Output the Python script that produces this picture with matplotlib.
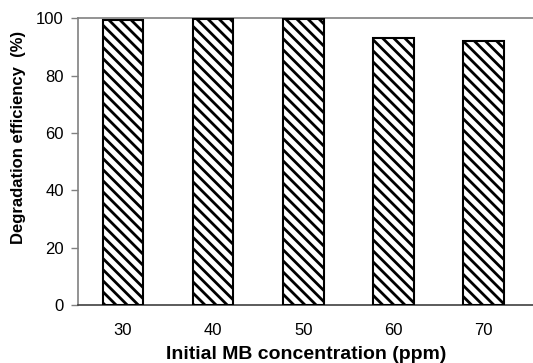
import matplotlib
matplotlib.use("Agg")
import matplotlib.pyplot as plt

concentrations = ["30", "40", "50", "60", "70"]
efficiency = [99.2, 99.7, 99.6, 93.1, 92.0]

plt.rcParams["font.family"] = ["Liberation Sans", "DejaVu Sans"]
plt.rcParams["hatch.linewidth"] = 2.0
plt.rcParams["hatch.color"] = "black"

fig = plt.figure(figsize=(5.33, 3.63), dpi=100)
ax = fig.add_axes([0.146, 0.160, 0.856, 0.790])

x = range(len(concentrations))
ax.bar(x, efficiency, width=0.45, color="white", edgecolor="black",
       linewidth=1.5, hatch="\\\\\\", zorder=3)

ax.set_xlim(-0.5, 4.56)
ax.set_ylim(0, 100)
ax.set_yticks([0, 20, 40, 60, 80, 100])
ax.set_xticks(list(x))
ax.set_xticklabels(concentrations)
ax.tick_params(axis="both", labelsize=12, colors="black", length=5,
               width=1, direction="out")
ax.tick_params(axis="x", length=0, pad=13)
ax.tick_params(axis="y", color="#808080", pad=5)

for side in ["left", "top", "bottom"]:
    ax.spines[side].set_color("#808080")
    ax.spines[side].set_linewidth(1.2)
ax.spines["right"].set_visible(False)
ax.spines["bottom"].set_color("#404040")

ax.set_ylabel("Degradation efficiency  (%)", fontsize=12, fontweight="bold")
ax.yaxis.set_label_coords(-0.113, 0.585)
ax.set_xlabel("Initial MB concentration (ppm)", fontsize=14, fontweight="bold", labelpad=6)

fig.savefig("out.png", dpi=100)
